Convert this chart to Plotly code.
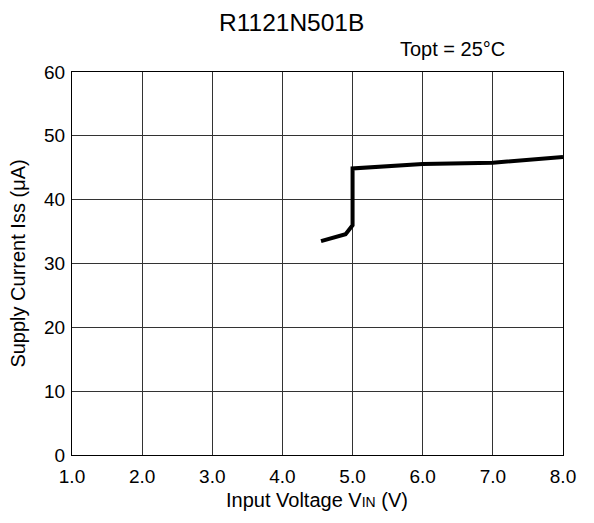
import plotly.graph_objects as go

vin = [4.55, 4.9, 5.0, 5.0, 6.0, 7.0, 8.0]
iss = [33.5, 34.6, 36.0, 44.9, 45.6, 45.8, 46.7]
x_ticks = [1, 2, 3, 4, 5, 6, 7, 8]
x_labels = ["1.0", "2.0", "3.0", "4.0", "5.0", "6.0", "7.0", "8.0"]
y_ticks = [0, 10, 20, 30, 40, 50, 60]

FONT = "Liberation Sans, Arial, sans-serif"

fig = go.Figure()
fig.add_trace(go.Scatter(x=vin, y=iss, mode="lines",
                         line=dict(color="black", width=4),
                         showlegend=False, hoverinfo="skip"))

fig.update_layout(
    width=586, height=515,
    margin=dict(l=64, r=31, t=64, b=68),
    paper_bgcolor="white", plot_bgcolor="white",
    font=dict(family=FONT, color="black", size=19),
    xaxis=dict(range=[1, 8], tickvals=x_ticks, ticktext=x_labels,
               showgrid=True, gridcolor="#333333", gridwidth=1,
               showline=True, linecolor="black", linewidth=1, mirror=True,
               ticks="", zeroline=False, tickfont=dict(size=19),
               ticklabelstandoff=4, automargin=False),
    yaxis=dict(range=[0, 60], tickvals=y_ticks,
               showgrid=True, gridcolor="#333333", gridwidth=1,
               showline=True, linecolor="black", linewidth=1, mirror=True,
               ticks="", zeroline=False, tickfont=dict(size=19),
               ticklabelstandoff=2, automargin=False),
    annotations=[
        dict(text="R1121N501B", xref="paper", yref="paper",
             x=0.447, y=1.128, xanchor="center", yanchor="middle",
             showarrow=False, font=dict(size=24.5, family=FONT)),
        dict(text="Topt = 25°C", xref="paper", yref="paper",
             x=0.774, y=1.06, xanchor="center", yanchor="middle",
             showarrow=False, font=dict(size=20, family=FONT)),
        dict(text="Input Voltage V<span style='font-size:14px'>IN</span> (V)",
             xref="paper", yref="paper", x=0.498, y=-0.1175,
             xanchor="center", yanchor="middle",
             showarrow=False, font=dict(size=20, family=FONT)),
        dict(text="Supply Current Iss (μA)", xref="paper", yref="paper",
             x=-0.109, y=0.501, xanchor="center", yanchor="middle",
             textangle=-90, showarrow=False, font=dict(size=20, family=FONT)),
    ],
)

fig.write_html("out.html")
